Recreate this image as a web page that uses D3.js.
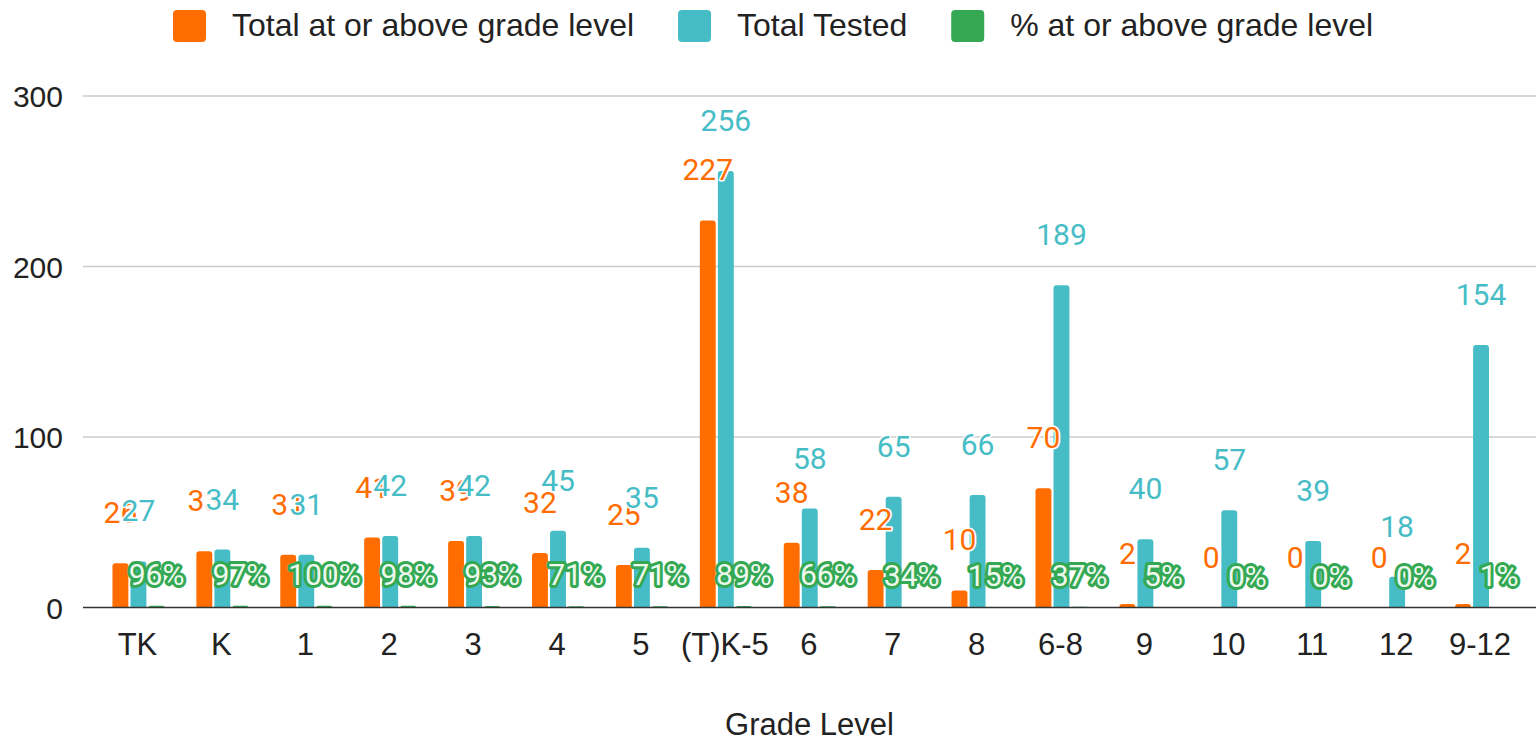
<!DOCTYPE html>
<html>
<head>
<meta charset="utf-8">
<script src="https://cdn.jsdelivr.net/npm/d3@7"></script>
<style>
  html, body { margin: 0; padding: 0; background: #fff; }
  svg { display: block; }
</style>
</head>
<body>
<svg id="chart" width="1536" height="742"></svg>
<script>
const categories = ["TK", "K", "1", "2", "3", "4", "5", "(T)K-5", "6", "7", "8", "6-8", "9", "10", "11", "12", "9-12"];
const totalAtOrAbove = [26, 33, 31, 41, 39, 32, 25, 227, 38, 22, 10, 70, 2, 0, 0, 0, 2];
const totalTested = [27, 34, 31, 42, 42, 45, 35, 256, 58, 65, 66, 189, 40, 57, 39, 18, 154];
const pctAtOrAbove = [0.96, 0.97, 1.00, 0.98, 0.93, 0.71, 0.71, 0.89, 0.66, 0.34, 0.15, 0.37, 0.05, 0, 0, 0, 0.01];
const seriesNames = ["Total at or above grade level", "Total Tested", "% at or above grade level"];
const seriesColors = ["#ff6d01", "#46bdc6", "#34a853"];
const yTicks = [0, 100, 200, 300];
const xTitle = "Grade Level";

const svg = d3.select("#chart");
const plotLeft = 83, plotRight = 1536;
const y = d3.scaleLinear().domain([0, 300]).range([607.5, 96]);
const x = d3.scaleBand().domain(categories).range([96.5, 1523]).padding(0);
const groupW = 52;
const xs = d3.scaleBand().domain(seriesNames).range([0, groupW]).paddingInner(0.12);

// gridlines
svg.append("g").selectAll("line").data(yTicks.filter(d => d !== 0)).join("line")
  .attr("x1", plotLeft).attr("x2", plotRight)
  .attr("y1", d => y(d)).attr("y2", d => y(d))
  .attr("stroke", "#cccccc").attr("stroke-width", 1.5);

// y axis labels
const yAxis = d3.axisLeft(y).tickValues(yTicks).tickSize(0).tickPadding(0);
const yg = svg.append("g").attr("transform", "translate(63,0)").call(yAxis);
yg.select(".domain").remove();
yg.selectAll("text").attr("font-family", "Liberation Sans, Arial, sans-serif")
  .attr("font-size", 30).attr("fill", "#222").attr("dy", "0.36em");

const data = categories.map((c, i) => ({
  cat: c,
  vals: [totalAtOrAbove[i], totalTested[i], pctAtOrAbove[i]]
}));

function barPath(x0, w, yTop, yBase, r) {
  const h = yBase - yTop;
  if (h <= 0) return "";
  const rr = Math.min(r, h, w / 2);
  return `M${x0},${yBase}V${yTop + rr}Q${x0},${yTop} ${x0 + rr},${yTop}H${x0 + w - rr}Q${x0 + w},${yTop} ${x0 + w},${yTop + rr}V${yBase}Z`;
}

const bx = (cat, s) => x(cat) + (x.bandwidth() - groupW) / 2 + xs(s);

// bars
seriesNames.forEach((s, si) => {
  svg.append("g").selectAll("path").data(data).join("path")
    .attr("d", d => barPath(bx(d.cat, s), xs.bandwidth(), y(d.vals[si]), y(0), 3))
    .attr("fill", seriesColors[si]);
});

// baseline
svg.append("line").attr("x1", plotLeft).attr("x2", plotRight)
  .attr("y1", y(0)).attr("y2", y(0)).attr("stroke", "#333").attr("stroke-width", 1.5);

// value labels
const fmtPct = d3.format(".0%");
seriesNames.forEach((s, si) => {
  const g = svg.append("g");
  const t = g.selectAll("text").data(data).join("text")
    .attr("x", d => bx(d.cat, s) + xs.bandwidth() / 2)
    .attr("text-anchor", "middle")
    .attr("font-family", "Roboto, sans-serif")
    .attr("font-size", 30)
    .style("paint-order", "stroke")
    .attr("stroke-linejoin", "round");
  if (si < 2) {
    t.attr("y", d => y(d.vals[si]) - 40)
      .attr("fill", seriesColors[si])
      .attr("stroke", "#fff").attr("stroke-width", 3)
      .text(d => d.vals[si]);
  } else {
    t.attr("y", d => y(d.vals[si]) - 21)
      .attr("fill", "#eef8ef")
      .attr("stroke", seriesColors[si]).attr("stroke-width", 6)
      .text(d => fmtPct(d.vals[si]));
  }
});

// x axis labels
const xAxis = d3.axisBottom(x).tickSize(0).tickPadding(0);
const xg = svg.append("g").attr("transform", "translate(0,655)").call(xAxis);
xg.select(".domain").remove();
xg.selectAll("text").attr("font-family", "Liberation Sans, Arial, sans-serif")
  .attr("font-size", 31).attr("fill", "#222").attr("dy", 0)
  .attr("x", 0);
xg.selectAll(".tick").attr("transform", d => `translate(${bx(d, seriesNames[1]) + xs.bandwidth() / 2 - 1},0)`);

// x title
svg.append("text").attr("x", 809.5).attr("y", 735).attr("text-anchor", "middle")
  .attr("font-family", "Liberation Sans, Arial, sans-serif").attr("font-size", 31)
  .attr("fill", "#222").text(xTitle);

// legend
const lg = svg.append("g");
let lx = 173;
seriesNames.forEach((s, si) => {
  lg.append("rect").attr("x", lx).attr("y", 10).attr("width", 33).attr("height", 32)
    .attr("rx", 4).attr("fill", seriesColors[si]);
  const tx = lg.append("text").attr("x", lx + 59).attr("y", 36)
    .attr("font-family", "Liberation Sans, Arial, sans-serif").attr("font-size", 32)
    .attr("fill", "#222").text(s);
  const w = tx.node().getComputedTextLength();
  lx = lx + 59 + w + 44;
});
</script>
</body>
</html>
